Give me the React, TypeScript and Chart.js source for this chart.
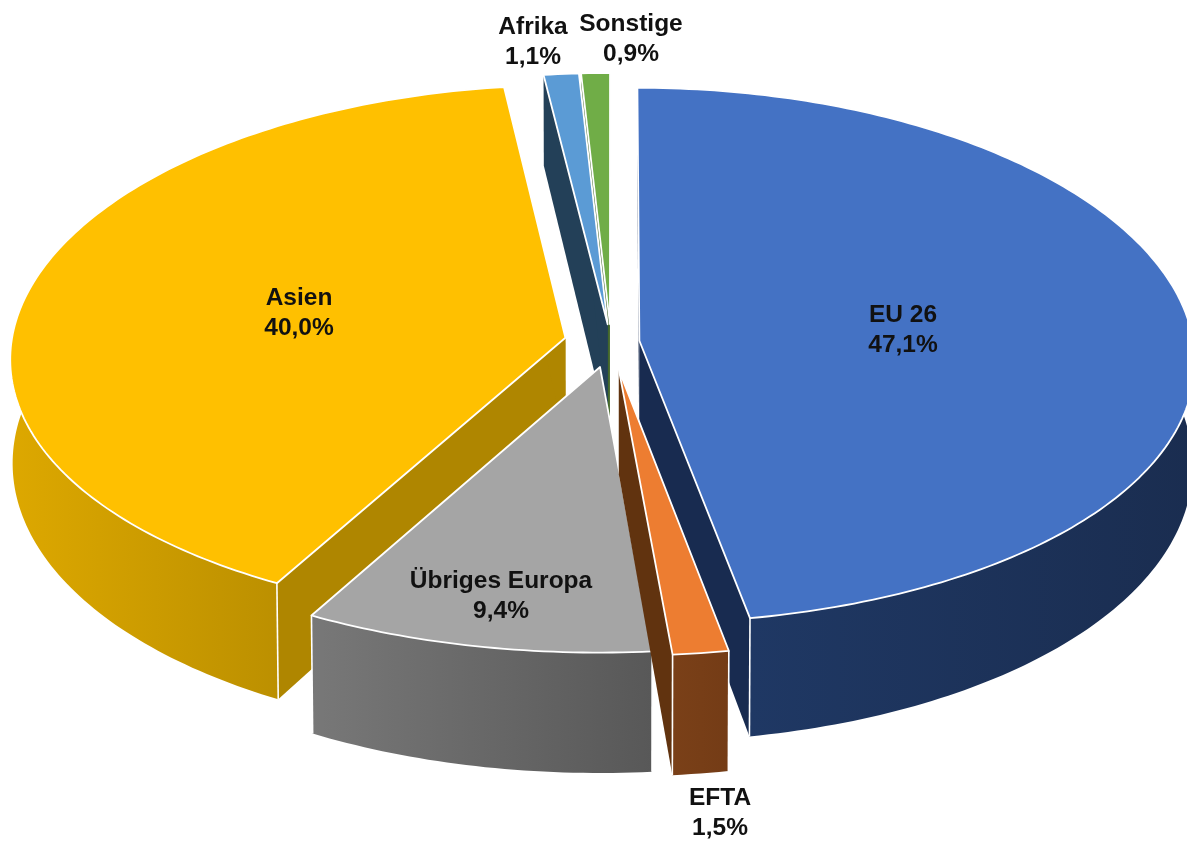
import React, { useEffect, useRef } from "react";
import { Chart, registerables } from "chart.js";

Chart.register(...registerables);

const categories = ["EU 26", "EFTA", "Übriges Europa", "Asien", "Afrika", "Sonstige"];
const shares = [47.1, 1.5, 9.4, 40.0, 1.1, 0.9];
const shareLabels = ["47,1%", "1,5%", "9,4%", "40,0%", "1,1%", "0,9%"];

const topColors = ["#4472C4", "#ED7D31", "#A5A5A5", "#FFC000", "#5B9BD5", "#70AD47"];
const faceColors = ["#182B50", "#61330F", "#636363", "#AF8600", "#234058", "#43682B"];
const wallLeft = ["#1F3864", "#7A4018", "#787878", "#DDA800", "#2F5B80", "#43682B"];
const wallRight = ["#1A2D50", "#743C16", "#585858", "#BC9000", "#2F5B80", "#43682B"];
const explode = [0.054, 0.11, 0.1, 0.088, 0.07, 0.07];
const drawOrder = [5, 4, 3, 0, 2, 1];
const labelSpots: [number, number][] = [
  [903, 330],
  [720, 813],
  [501, 596],
  [299, 313],
  [533, 42],
  [631, 39],
];

const WIDTH = 1187;
const HEIGHT = 841;
const CX = 611;
const CY = 342;
const RX = 554;
const RY = 267;
const PERSPECTIVE_X = 0.075;
const PERSPECTIVE_Y = 0.055;
const DEPTH = 103;
const DEPTH_PERSPECTIVE = 0.14;
const SHRINK = 0.004;

function project(x: number, y: number, z: number): [number, number] {
  const s = 1 - SHRINK * z;
  return [
    CX + (RX * x * s) / (1 - PERSPECTIVE_X * y),
    CY + (RY * y * s) / (1 - PERSPECTIVE_Y * y) + (DEPTH * z) / (1 - DEPTH_PERSPECTIVE * y),
  ];
}

const pie3d = {
  id: "pie3d",
  beforeDatasetsDraw(chart: any) {
    const ctx: CanvasRenderingContext2D = chart.ctx;
    const arcs = chart.getDatasetMeta(0).data;
    ctx.save();
    ctx.lineJoin = "round";
    ctx.strokeStyle = "#FFFFFF";
    for (const i of drawOrder) {
      const arc = arcs[i];
      const { startAngle, endAngle, outerRadius } = arc.getProps(
        ["startAngle", "endAngle", "outerRadius"],
        true,
      );
      const off = arc.options.offset / outerRadius;
      const mid = (startAngle + endAngle) / 2;
      const ox = Math.cos(mid) * off;
      const oy = Math.sin(mid) * off;
      const rim = (a: number, z: number) => project(ox + Math.cos(a), oy + Math.sin(a), z);
      const apex = (z: number) => project(ox, oy, z);
      const steps = Math.max(4, Math.ceil((endAngle - startAngle) * 60));
      const angles: number[] = [];
      for (let k = 0; k <= steps; k++) angles.push(startAngle + ((endAngle - startAngle) * k) / steps);

      const poly = (pts: [number, number][]) => {
        ctx.beginPath();
        pts.forEach((p, n) => (n ? ctx.lineTo(p[0], p[1]) : ctx.moveTo(p[0], p[1])));
        ctx.closePath();
      };

      // radial cut faces
      for (const a of [startAngle, endAngle]) {
        poly([apex(0), rim(a, 0), rim(a, 1), apex(1)]);
        ctx.fillStyle = faceColors[i];
        ctx.fill();
      }

      // outer wall, front part only
      const front = angles.filter((a) => Math.sin(a) > -0.16);
      if (front.length > 1) {
        const upper = front.map((a) => rim(a, 0));
        const lower = front.map((a) => rim(a, 1)).reverse();
        const xs = upper.map((p) => p[0]);
        const grad = ctx.createLinearGradient(Math.min(...xs), 0, Math.max(...xs), 0);
        grad.addColorStop(0, wallLeft[i]);
        grad.addColorStop(1, wallRight[i]);
        poly([...upper, ...lower]);
        ctx.fillStyle = grad;
        ctx.fill();
        ctx.lineWidth = 1.6;
        for (const a of [startAngle, endAngle]) {
          if (Math.sin(a) > 0) {
            const p = rim(a, 0);
            const q = rim(a, 1);
            ctx.beginPath();
            ctx.moveTo(p[0], p[1]);
            ctx.lineTo(q[0], q[1]);
            ctx.stroke();
          }
        }
      }

      // top face
      poly([apex(0), ...angles.map((a) => rim(a, 0))]);
      ctx.fillStyle = topColors[i];
      ctx.fill();
      ctx.lineWidth = 1.8;
      ctx.stroke();
    }

    ctx.fillStyle = "#111111";
    ctx.font = "bold 24.5px 'Liberation Sans'";
    ctx.textAlign = "center";
    ctx.textBaseline = "middle";
    categories.forEach((name, i) => {
      const [x, y] = labelSpots[i];
      ctx.fillText(name, x, y - 15);
      ctx.fillText(shareLabels[i], x, y + 15);
    });
    ctx.restore();
    return false;
  },
};

export default function App() {
  const ref = useRef<HTMLCanvasElement>(null);
  useEffect(() => {
    document.body.style.margin = "0";
    const chart = new Chart(ref.current!, {
      type: "pie",
      data: {
        labels: categories,
        datasets: [
          {
            data: shares,
            backgroundColor: topColors,
            offset: explode.map((e) => e * 380),
          },
        ],
      },
      options: {
        animation: false,
        responsive: false,
        plugins: { legend: { display: false }, tooltip: { enabled: false } },
      },
      plugins: [pie3d],
    } as any);
    return () => chart.destroy();
  }, []);
  return (
    <canvas
      ref={ref}
      width={WIDTH}
      height={HEIGHT}
      style={{ display: "block", width: WIDTH, height: HEIGHT }}
    />
  );
}
